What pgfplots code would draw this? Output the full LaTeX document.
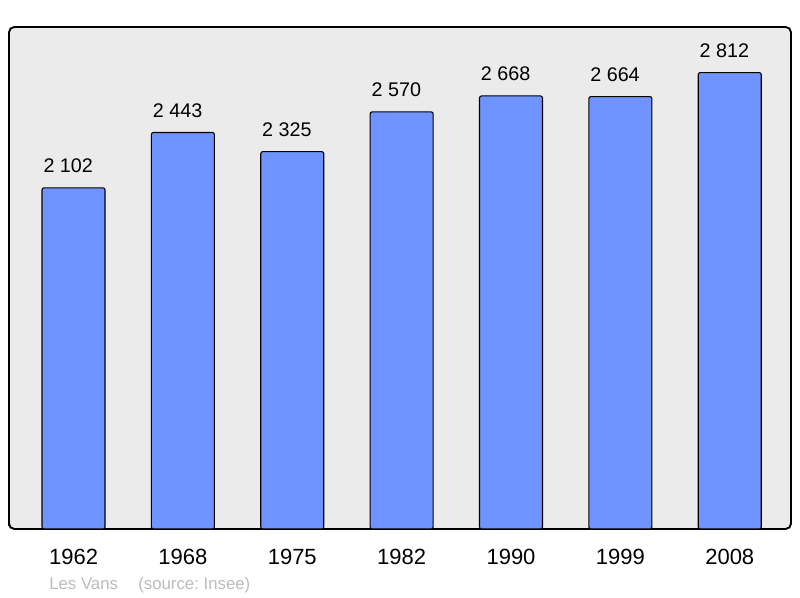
\documentclass[border=0pt]{standalone}
\usepackage{fontspec}
\setmainfont{Liberation Sans}
\usepackage{pgfplots}
\pgfplotsset{compat=1.18}

\definecolor{barblue}{HTML}{7094FF}
\definecolor{panel}{HTML}{EBEBEB}
\definecolor{note}{HTML}{BBBBBB}

% population, Les Vans
\pgfplotstableread{
x year pop
0 1962 2102
1 1968 2443
2 1975 2325
3 1982 2570
4 1990 2668
5 1999 2664
6 2008 2812
}\popdata

\frenchspacing
\begin{document}
\begin{tikzpicture}
  % 1px = 0.75pt, page 800x598
  \path[use as bounding box] (-6.75pt,-51.75pt) rectangle (593.25pt,396.75pt);
  \begin{axis}[
      at={(0,0)}, anchor=south west,
      scale only axis,
      width=586.5pt, height=376.5pt,
      ybar, bar width=47.25pt,
      xmin=-0.59, xmax=6.56,
      ymin=0, ymax=3093,
      axis background/.style={fill=panel},
      axis line style={line width=1.4pt, rounded corners=4pt},
      ytick=\empty,
      xtick=data,
      xticklabels={1962,1968,1975,1982,1990,1999,2008},
      major tick length=0pt,
      xticklabel style={font=\fontsize{16.5}{18}\selectfont, anchor=base, inner sep=0pt, yshift=-27pt},
      nodes near coords,
      every node near coord/.append style={font=\fontsize{14.8}{16}\selectfont, anchor=base, inner sep=0pt, yshift=11.25pt, xshift=-4pt},
      /pgf/number format/.cd, fixed, precision=0, 1000 sep={\ }, assume math mode=true,
    ]
    \addplot[fill=barblue, draw=black, line width=0.8pt, rounded corners=1.5pt] table[x=x, y=pop] {\popdata};
  \end{axis}
  \node[anchor=base west, inner sep=0pt, text=note, font=\fontsize{12.6}{14}\selectfont] at (30pt,-45.75pt) {Les Vans};
  \node[anchor=base west, inner sep=0pt, text=note, font=\fontsize{12.6}{14}\selectfont] at (96.75pt,-45.75pt) {(source: Insee)};
\end{tikzpicture}
\end{document}
